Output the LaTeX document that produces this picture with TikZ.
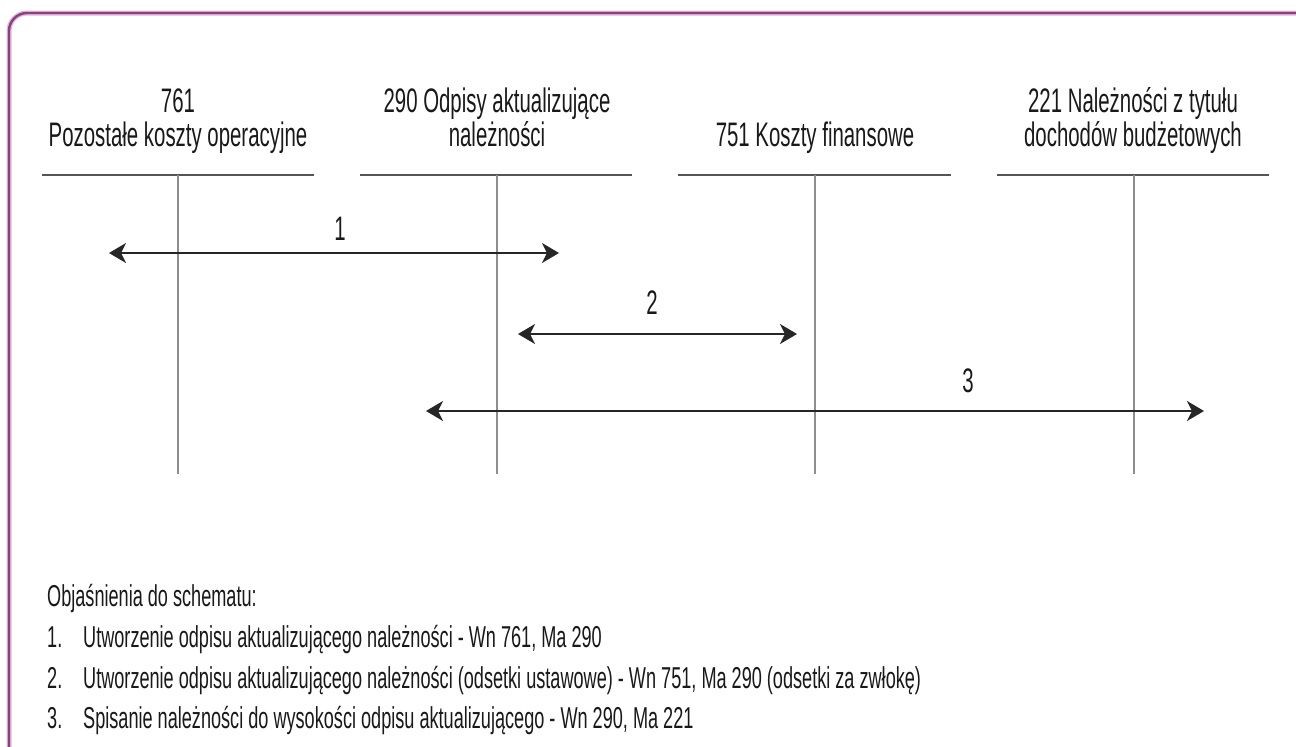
\documentclass[tikz,border=0pt]{standalone}
\usepackage{fontspec}
\setmainfont{Liberation Sans}[FakeStretch=0.60]
\usetikzlibrary{arrows.meta}
\definecolor{frameline}{HTML}{86447F}
\definecolor{framehalo}{HTML}{E3B6DA}
\definecolor{rulegrey}{HTML}{555555}
\definecolor{axisgrey}{HTML}{8E8E8E}
\tikzset{
  head/.style={font=\fontsize{34}{40}\selectfont, text=black!90, align=center, inner sep=0pt},
  legend/.style={font=\fontsize{30.2}{34}\selectfont, text=black!90, anchor=base west, inner sep=0pt},
  toprule/.style={draw=rulegrey, line width=1.4pt},
  axis/.style={draw=axisgrey, line width=1.3pt},
  flow/.style={draw=black!85, line width=1.6pt,
    {Stealth[length=17pt, width=20pt, inset=5pt]}-{Stealth[length=17pt, width=20pt, inset=5pt]}},
  num/.style={font=\fontsize{34}{40}\selectfont, text=black!90, inner sep=0pt}
}
\begin{document}
\begin{tikzpicture}[x=1pt, y=-1pt]
\useasboundingbox (0,0) rectangle (1296,747);
\fill[white] (0,0) rectangle (1296,747);

% frame: open on the right and at the bottom
\draw[framehalo, line width=5pt, rounded corners=18pt] (9,760) -- (9,13) -- (1310,13);
\draw[frameline, line width=2.4pt, rounded corners=18pt] (9,760) -- (9,13) -- (1310,13);

% account headings
\node[head, anchor=base] (h1a) at (178,112) {761};
\node[head, anchor=base] (h1b) at (178,146) {Pozostałe koszty operacyjne};
\node[head, anchor=base] (h2a) at (497,112) {290 Odpisy aktualizujące};
\node[head, anchor=base] (h2b) at (497,146) {należności};
\node[head, anchor=base] (h3b) at (815,146) {751 Koszty finansowe};
\node[head, anchor=base] (h4a) at (1133,112) {221 Należności z tytułu};
\node[head, anchor=base] (h4b) at (1133,146) {dochodów budżetowych};

% T-accounts: horizontal rule with a vertical axis
\foreach \i/\x/\l/\r in {1/178/42/314, 2/497/360/632, 3/815/678/951, 4/1134/997/1269}{
  \coordinate (t\i) at (\x,175);
  \coordinate (b\i) at (\x,474);
  \draw[toprule] (\l,175) -- (\r,175);
  \draw[axis] (t\i) -- (b\i);
}

% bookings
\coordinate (a1l) at (109,253);
\coordinate (a1r) at (559,253);
\coordinate (a2l) at (518,334);
\coordinate (a2r) at (797,334);
\coordinate (a3l) at (426,411);
\coordinate (a3r) at (1204,411);
\draw[flow] (a1l) -- (a1r);
\draw[flow] (a2l) -- (a2r);
\draw[flow] (a3l) -- (a3r);
\node[num, anchor=base] (n1) at (340,240) {1};
\node[num, anchor=base] (n2) at (652,314) {2};
\node[num, anchor=base] (n3) at (968,392) {3};

% key
\node[legend] (k0) at (47,606) {Objaśnienia do schematu:};
\node[legend] (k1n) at (47,647) {1.};
\node[legend] (k1) at (83,647) {Utworzenie odpisu aktualizującego należności - Wn 761, Ma 290};
\node[legend] (k2n) at (47,688) {2.};
\node[legend] (k2) at (83,688) {Utworzenie odpisu aktualizującego należności (odsetki ustawowe) - Wn 751, Ma 290 (odsetki za zwłokę)};
\node[legend] (k3n) at (47,728) {3.};
\node[legend] (k3) at (83,728) {Spisanie należności do wysokości odpisu aktualizującego - Wn 290, Ma 221};
\end{tikzpicture}
\end{document}
